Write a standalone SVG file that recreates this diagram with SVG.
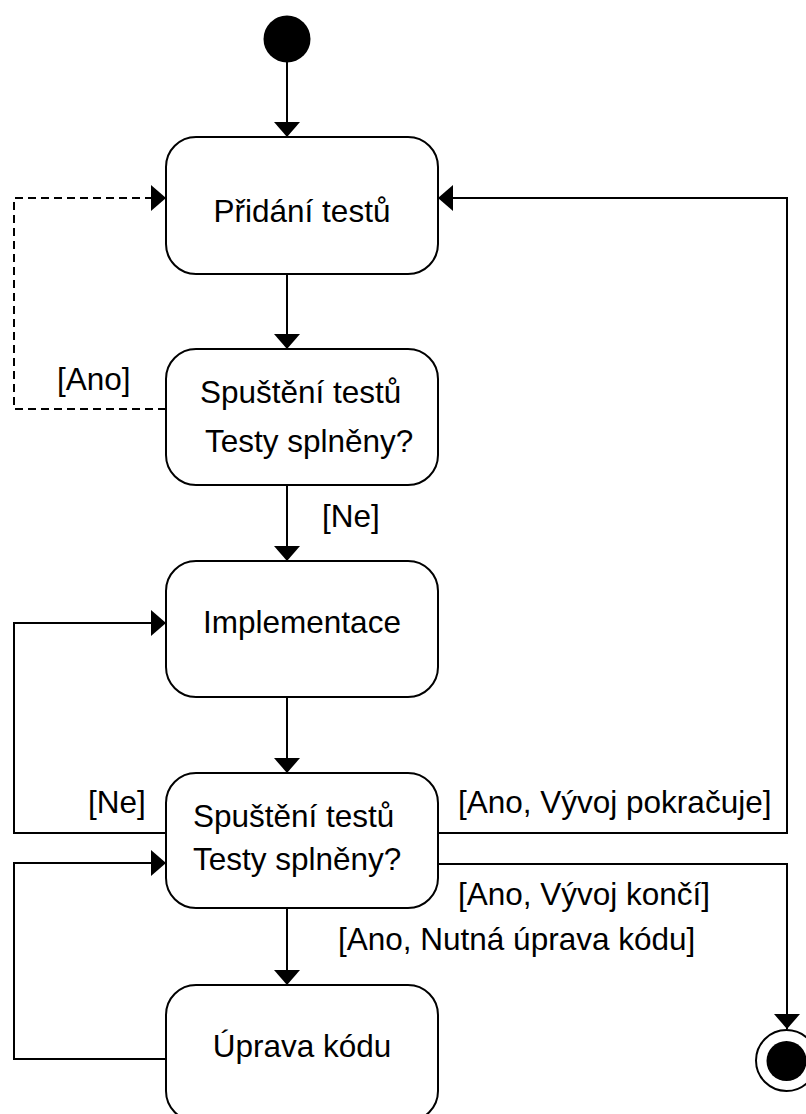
<svg xmlns="http://www.w3.org/2000/svg" width="806" height="1114" viewBox="0 0 806 1114">
<style>
.node{fill:#fff;stroke:#000;stroke-width:2}
.line{fill:none;stroke:#000;stroke-width:2}
.dash{fill:none;stroke:#000;stroke-width:2;stroke-dasharray:8 5}
text{font-family:"Liberation Sans",Arial,sans-serif;font-size:31.5px;fill:#000}
</style>
<defs>
<marker id="arr" viewBox="0 0 15 26" refX="15" refY="13" markerWidth="15" markerHeight="26" markerUnits="userSpaceOnUse" orient="auto">
<path d="M0,0 L15,13 L0,26 Z" fill="#000"/>
</marker>
</defs>
<rect width="806" height="1114" fill="#fff"/>
<g id="connectors">
<line class="line" x1="287" y1="62" x2="287" y2="137" marker-end="url(#arr)"/>
<line class="line" x1="287" y1="274" x2="287" y2="349" marker-end="url(#arr)"/>
<polyline class="dash" points="166,409 14,409 14,198 166,198" marker-end="url(#arr)"/>
<line class="line" x1="287" y1="485" x2="287" y2="561" marker-end="url(#arr)"/>
<line class="line" x1="287" y1="697" x2="287" y2="773" marker-end="url(#arr)"/>
<polyline class="line" points="166,833 14,833 14,623 166,623" marker-end="url(#arr)"/>
<polyline class="line" points="438,833 787,833 787,198 438,198" marker-end="url(#arr)"/>
<polyline class="line" points="438,864 787,864 787,1029" marker-end="url(#arr)"/>
<line class="line" x1="287" y1="908" x2="287" y2="985" marker-end="url(#arr)"/>
<polyline class="line" points="166,1059 14,1059 14,863 166,863" marker-end="url(#arr)"/>
<text x="57" y="390">[Ano]</text>
<text x="322" y="527">[Ne]</text>
<text x="88" y="813">[Ne]</text>
<text x="458" y="813">[Ano, Vývoj pokračuje]</text>
<text x="458" y="905">[Ano, Vývoj končí]</text>
<text x="338" y="950">[Ano, Nutná úprava kódu]</text>
</g>
<g id="start"><circle cx="287" cy="39" r="23.5" fill="#000"/></g>
<g id="n1"><rect class="node" x="166" y="137" width="272" height="137" rx="30"/><text x="302" y="222" text-anchor="middle">Přidání testů</text></g>
<g id="n2"><rect class="node" x="166" y="349" width="272" height="136" rx="30"/><text x="200" y="403">Spuštění testů</text><text x="205" y="452">Testy splněny?</text></g>
<g id="n3"><rect class="node" x="166" y="561" width="272" height="136" rx="30"/><text x="302" y="633" text-anchor="middle">Implementace</text></g>
<g id="n4"><rect class="node" x="166" y="773" width="272" height="135" rx="30"/><text x="193" y="827">Spuštění testů</text><text x="193" y="870">Testy splněny?</text></g>
<g id="n5"><rect class="node" x="166" y="985" width="272" height="136" rx="30"/><text x="302" y="1057" text-anchor="middle">Úprava kódu</text></g>
<g id="end"><circle cx="786.5" cy="1060.5" r="30.5" fill="#fff" stroke="#000" stroke-width="2"/><circle cx="786.5" cy="1061" r="20" fill="#000"/></g>
</svg>
